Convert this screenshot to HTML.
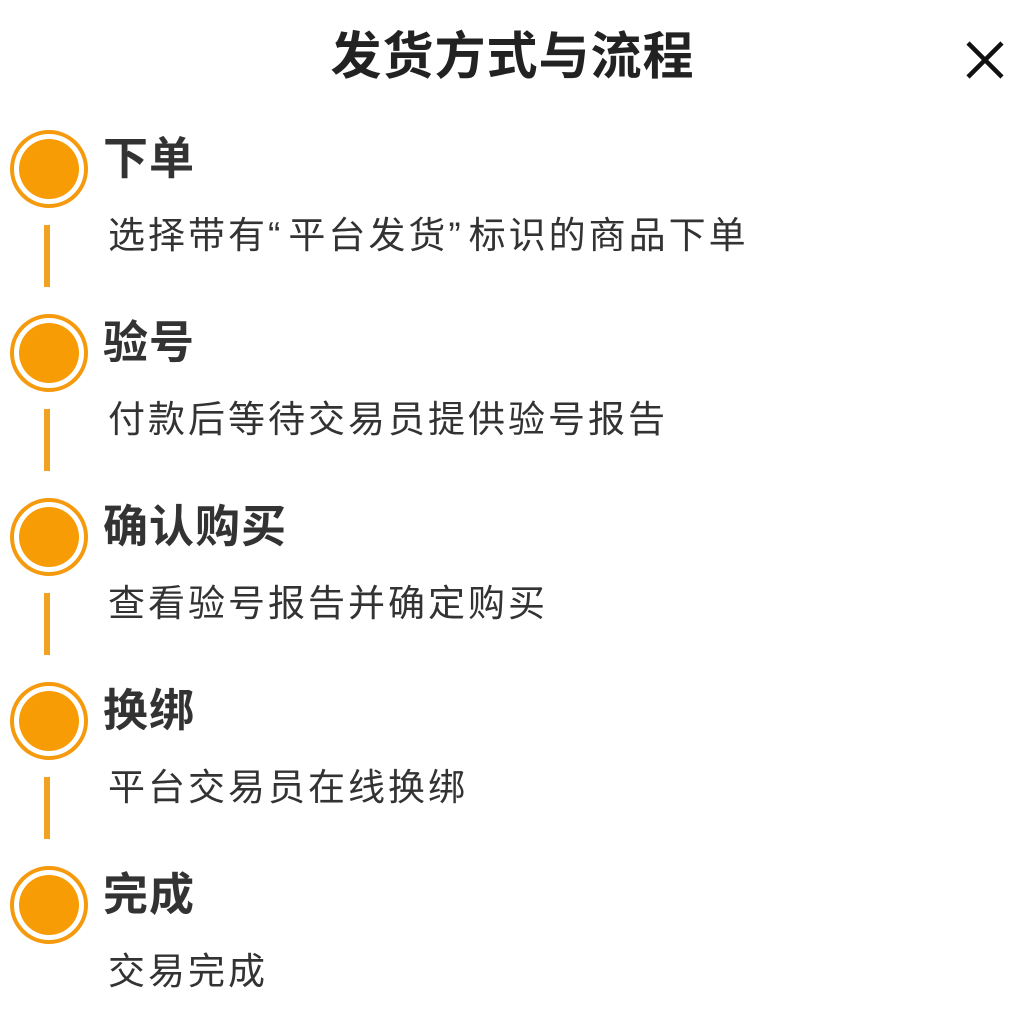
<!DOCTYPE html>
<html><head><meta charset="utf-8"><style>
body{margin:0;width:1025px;height:1017px;background:#fff;position:relative;overflow:hidden;font-family:"Liberation Sans","Noto Sans CJK SC",sans-serif;}
.h{position:absolute;top:22px;left:0;width:1025px;text-align:center;font-size:51px;letter-spacing:1px;font-weight:bold;color:#222;line-height:70px;}
.x{position:absolute;left:965px;top:40px;width:40px;height:40px;}
.c{position:absolute;left:10px;width:70px;height:70px;border:4px solid #f59a0c;border-radius:50%;}
.c::after{content:"";position:absolute;left:5px;top:5px;width:60px;height:60px;border-radius:50%;background:#f89c06;}
.l{position:absolute;left:44px;width:6px;height:62px;background:#f0a323;}
.t{position:absolute;left:103px;font-size:45px;letter-spacing:1px;font-weight:bold;color:#333;line-height:50px;}
.s{position:absolute;left:108px;font-family:"Noto Sans CJK SC",sans-serif;font-size:37px;letter-spacing:3px;color:#333;line-height:44px;white-space:nowrap;}
.q{font-family:"Liberation Sans",sans-serif;letter-spacing:8px;}
</style></head><body>
<div class="h">发货方式与流程</div>
<svg class="x" viewBox="0 0 40 40"><path d="M3 3L37 37M37 3L3 37" stroke="#111" stroke-width="4.5"/></svg>

<div class="c" style="top:130px"></div><div class="t" style="top:134px">下单</div>
<div class="s" style="top:210px">选择带有<span class="q">“</span>平台发货<span class="q">”</span>标识的商品下单</div>
<div class="l" style="top:225px"></div>

<div class="c" style="top:314px"></div><div class="t" style="top:318px">验号</div>
<div class="s" style="top:394px">付款后等待交易员提供验号报告</div>
<div class="l" style="top:409px"></div>

<div class="c" style="top:498px"></div><div class="t" style="top:502px">确认购买</div>
<div class="s" style="top:578px">查看验号报告并确定购买</div>
<div class="l" style="top:593px"></div>

<div class="c" style="top:682px"></div><div class="t" style="top:686px">换绑</div>
<div class="s" style="top:762px">平台交易员在线换绑</div>
<div class="l" style="top:777px"></div>

<div class="c" style="top:866px"></div><div class="t" style="top:870px">完成</div>
<div class="s" style="top:946px">交易完成</div>
</body></html>
